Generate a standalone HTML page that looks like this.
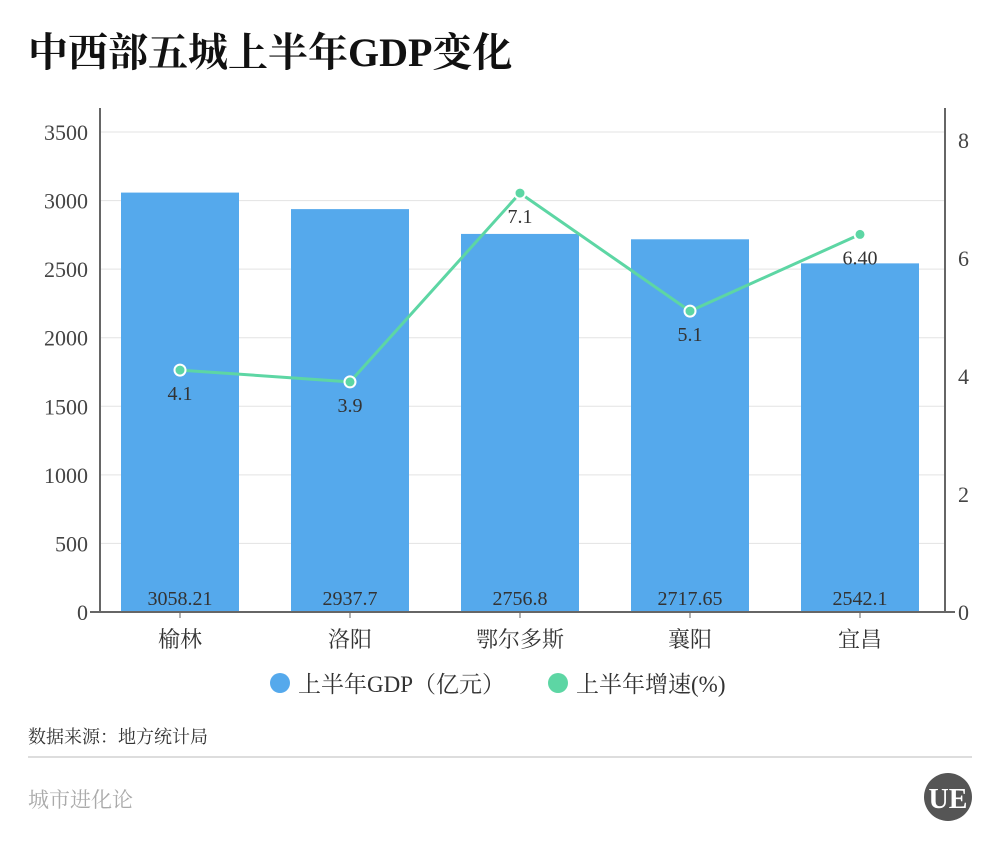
<!DOCTYPE html>
<html><head><meta charset="utf-8">
<style>
body{margin:0;background:#fff;width:1000px;height:850px;overflow:hidden;font-family:"Liberation Serif","Noto Serif CJK SC",serif}
svg text{font-family:"Liberation Serif","Noto Serif CJK SC",serif}
</style></head><body>
<svg id="c" width="1000" height="850" xmlns="http://www.w3.org/2000/svg">
<text x="28" y="66" font-size="40" font-weight="bold" fill="#111">中西部五城上半年GDP变化</text>
<g id="grid"></g><g id="bars"></g><g id="line"></g><g id="axes"></g>
<g>
<circle cx="280" cy="683" r="10" fill="#55a9ec"/>
<text x="298" y="692" font-size="23" fill="#333">上半年GDP（亿元）</text>
<circle cx="558" cy="683" r="10" fill="#5dd6a4"/>
<text x="576" y="692" font-size="23" fill="#333">上半年增速(%)</text>
</g>
<text x="28" y="743" font-size="18" fill="#333">数据来源：地方统计局</text>
<line x1="28" y1="757" x2="972" y2="757" stroke="#ddd" stroke-width="2"/>
<text x="28" y="807" font-size="21" fill="#aaa">城市进化论</text>
<circle cx="948" cy="797" r="24" fill="#555"/>
<text x="948" y="808" font-size="28" font-weight="bold" fill="#fff" text-anchor="middle">UE</text>
</svg>
<script>
const categories=["榆林","洛阳","鄂尔多斯","襄阳","宜昌"];
const gdp=[3058.21,2937.7,2756.8,2717.65,2542.1];
const gdpLabels=["3058.21","2937.7","2756.8","2717.65","2542.1"];
const growth=[4.1,3.9,7.1,5.1,6.4];
const growthLabels=["4.1","3.9","7.1","5.1","6.40"];
const leftTicks=[0,500,1000,1500,2000,2500,3000,3500];
const rightTicks=[0,2,4,6,8];
const NS="http://www.w3.org/2000/svg";
const x0=95,band=170,bottom=612;
const yL=v=>bottom-v*(480/3500);
const yR=v=>bottom-v*(472/8);
const xc=i=>x0+band*(i+0.5);
function mk(t,a,p){const e=document.createElementNS(NS,t);for(const k in a)e.setAttribute(k,a[k]);document.getElementById(p).appendChild(e);return e;}
leftTicks.forEach(v=>{
 if(v>0){const g=mk('line',{x1:100,x2:945,y1:yL(v),y2:yL(v),stroke:'#e3e3e3','stroke-width':1},'grid');
 
 }
 const t=mk('text',{x:88,y:yL(v)+8,'font-size':22,fill:'#444','text-anchor':'end'},'axes');t.textContent=v;
 
 
});
rightTicks.forEach(v=>{
 const t=mk('text',{x:958,y:yR(v)+8,'font-size':22,fill:'#444'},'axes');t.textContent=v;
 
 
});
gdp.forEach((v,i)=>{
 const b=mk('rect',{x:xc(i)-59,y:yL(v),width:118,height:bottom-yL(v),fill:'#55a9ec'},'bars');
 
 
 const t=mk('text',{x:xc(i),y:605,'font-size':20,fill:'#333','text-anchor':'middle'},'bars');t.textContent=gdpLabels[i];
 
 
 const c=mk('text',{x:xc(i),y:647,'font-size':22,fill:'#333','text-anchor':'middle'},'axes');c.textContent=categories[i];
 
 
 const tk=mk('line',{x1:xc(i),x2:xc(i),y1:bottom,y2:bottom+6,stroke:'#666'},'axes');
 
 
});
const pl=mk('polyline',{points:growth.map((v,i)=>xc(i)+','+yR(v)).join(' '),fill:'none',stroke:'#5dd6a4','stroke-width':3},'line');


growth.forEach((v,i)=>{
 const p=mk('circle',{cx:xc(i),cy:yR(v),r:5.5,fill:'#5dd6a4',stroke:'#fff','stroke-width':2},'line');
 
 
 const t=mk('text',{x:xc(i),y:yR(v)+30,'font-size':20,fill:'#333','text-anchor':'middle'},'line');t.textContent=growthLabels[i];
 
 
});
[[100,108,100,612],[945,108,945,612],[90,612,955,612]].forEach((a,k)=>{
 const l=mk('line',{x1:a[0],y1:a[1],x2:a[2],y2:a[3],stroke:'#666','stroke-width':2},'axes');
 
 
});
</script>
</body></html>
